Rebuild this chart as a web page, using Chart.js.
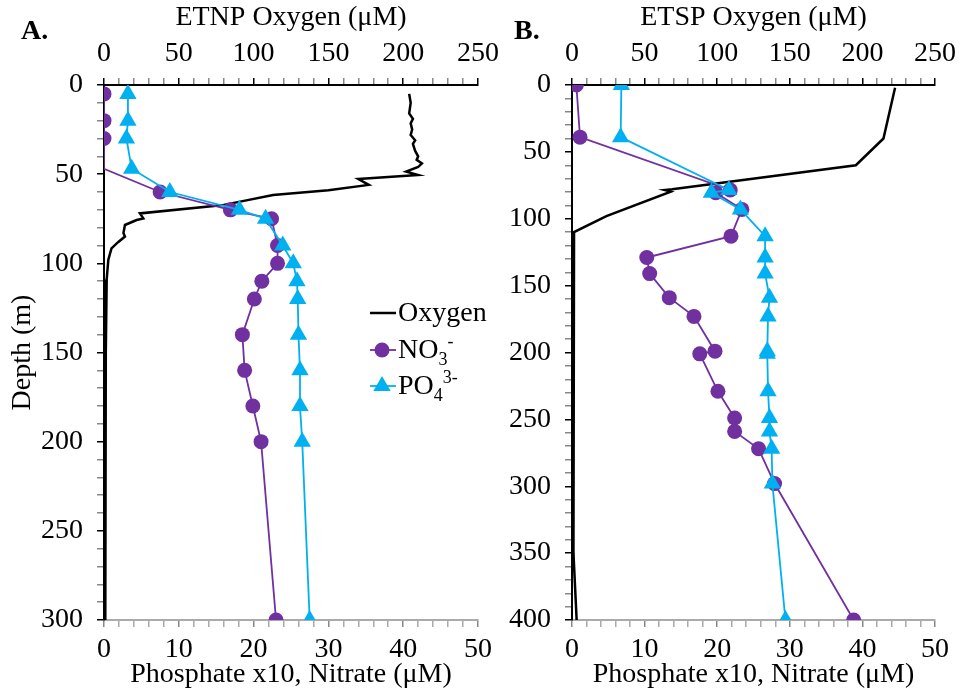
<!DOCTYPE html>
<html>
<head>
<meta charset="utf-8">
<script src="https://cdn.jsdelivr.net/npm/chart.js"></script>
<style>
  body { margin: 0; background: #fff; }
  #wrap { position: relative; width: 964px; height: 691px; }
  canvas { position: absolute; left: 0; top: 0; }
</style>
</head>
<body>
<div id="wrap">
  <canvas id="chartA" width="964" height="691"></canvas>
  <canvas id="chartB" width="964" height="691"></canvas>
</div>
<script>
// ---- ETNP (panel A) ----
const etnpNutDepth = [5, 20, 30, 47, 60, 70, 75, 90, 100, 110, 120, 140, 160, 180, 200, 300];
const etnpNitrate = [0, 0, 0, 0, 7.5, 16.9, 22.4, 23.2, 23.2, 21.1, 20.1, 18.5, 18.8, 19.9, 21.0, 23.0];
const etnpPhosphate = [3.2, 3.2, 3.0, 3.7, 8.8, 18.1, 21.6, 23.9, 25.3, 25.8, 25.9, 26.0, 26.2, 26.2, 26.5, 27.5];
const etnpOxDepth = [5, 10, 16, 19, 21.5, 25, 28, 31, 33, 37, 40, 42, 44, 46, 48.6, 50.5, 52.7, 56, 59, 61.7, 65.4, 67.3,
  72, 74.8, 75.7, 78.5, 83, 85, 88, 91.6, 98, 109, 130, 150, 200, 250, 300];
const etnpOxygen = [204, 205, 204, 206.5, 205, 206, 205, 208, 206.5, 208, 210, 209, 212.5, 210, 202, 210, 170, 177, 150, 113, 91, 80,
  24, 26.3, 21.8, 14, 13, 14, 9.6, 5, 2.9, 1.8, 1.5, 1.2, 1, 0.8, 0.8];

// ---- ETSP (panel B) ----
const etspNutDepth = [0, 39, 78.5, 80.5, 93, 113, 129, 141, 159, 173, 199, 201, 229, 249, 259, 272, 298, 400];
const etspNitrate = [0.6, 1.1, 21.8, 19.8, 23.4, 21.9, 10.3, 10.7, 13.4, 16.8, 19.7, 17.6, 20.1, 22.4, 22.4, 25.7, 27.9, 38.8];
const etspPhosphate = [6.8, 6.7, 21.6, 19.2, 23.2, 26.6, 26.6, 26.6, 27.2, 27.0, 26.9, 26.9, 27.0, 27.2, 27.2, 27.5, 27.6, 29.4];
const etspOxDepth = [2, 40, 60, 78, 78.5, 79.7, 98, 110, 350, 400];
const etspOxygen = [222.5, 214.5, 195.5, 69, 64, 68, 23.7, 1.4, 1, 3.2];

const FONT = "'Liberation Serif', 'Times New Roman', serif";
const PURPLE = '#7030A0';
const BLUE = '#00B0F0';

function pts(xs, ys) {
  return xs.map((v, i) => ({ x: v, y: ys[i] }));
}

function tickColor(major, dark, light) {
  return ctx => (ctx.tick && ctx.tick.value % major === 0) ? dark : light;
}

// panel letter + legend with sub/superscripts
const extras = {
  id: 'extras',
  afterDraw(chart, args, opts) {
    const c = chart.ctx;
    c.save();
    c.fillStyle = '#000';
    c.textBaseline = 'alphabetic';
    c.font = 'bold 28px ' + FONT;
    c.fillText(opts.letter, opts.letterX, 39);
    (opts.legend || []).forEach(item => {
      c.strokeStyle = item.color;
      c.lineWidth = item.width;
      c.beginPath();
      c.moveTo(370, item.y);
      c.lineTo(396, item.y);
      c.stroke();
      c.fillStyle = item.color;
      if (item.marker === 'circle') {
        c.beginPath();
        c.arc(382, item.y, 7.5, 0, Math.PI * 2);
        c.fill();
      } else if (item.marker === 'triangle') {
        const r = 10;
        c.beginPath();
        c.moveTo(382, item.y - r);
        c.lineTo(382 + r * 0.866, item.y + r * 0.5);
        c.lineTo(382 - r * 0.866, item.y + r * 0.5);
        c.closePath();
        c.fill();
      }
      c.fillStyle = '#000';
      let x = 398;
      item.parts.forEach(p => {
        let dy = 0;
        if (p.sub) { c.font = '18px ' + FONT; dy = 7; }
        else if (p.sup) { c.font = '18px ' + FONT; dy = -11; }
        else c.font = '28px ' + FONT;
        c.fillText(p.t, x, item.y + 8 + dy);
        x += c.measureText(p.t).width;
      });
    });
    c.restore();
  }
};

function buildChart(id, d) {
  const ctx = document.getElementById(id).getContext('2d');
  return new Chart(ctx, {
    type: 'scatter',
    data: {
      datasets: [
        {
          label: 'PO4',
          data: pts(d.phosphate, d.depth),
          xAxisID: 'x',
          showLine: true,
          borderColor: BLUE,
          backgroundColor: BLUE,
          borderWidth: 1.8,
          pointStyle: 'triangle',
          pointRadius: 10,
          pointBorderWidth: 0
        },
        {
          label: 'NO3',
          data: pts(d.nitrate, d.depth),
          xAxisID: 'x',
          showLine: true,
          borderColor: PURPLE,
          backgroundColor: PURPLE,
          borderWidth: 1.8,
          pointStyle: 'circle',
          pointRadius: c => (d.hideNitrate || []).includes(c.dataIndex) ? 0 : 7.5,
          pointBorderWidth: 0
        },
        {
          label: 'Oxygen',
          data: pts(d.oxygen, d.oxDepth),
          xAxisID: 'x2',
          showLine: true,
          borderColor: '#000',
          borderWidth: 2.5,
          pointRadius: 0
        }
      ]
    },
    options: {
      responsive: false,
      animation: false,
      devicePixelRatio: 1,
      layout: { padding: { left: d.padLeft, right: d.padRight, top: 0, bottom: 0 } },
      plugins: {
        legend: { display: false },
        tooltip: { enabled: false },
        extras: { letter: d.letter, letterX: d.letterX, legend: d.legend }
      },
      scales: {
        x: {
          type: 'linear',
          position: 'bottom',
          min: 0, max: 50,
          ticks: {
            stepSize: 2, maxTicksLimit: 100, autoSkip: false, maxRotation: 0,
            callback: v => v % 10 === 0 ? v : '',
            font: { family: FONT, size: 28 }, color: '#000', padding: 6
          },
          grid: { drawOnChartArea: false, drawTicks: true, tickLength: 7, lineWidth: 1.5, color: tickColor(10, '#888', '#aaa') },
          border: { color: '#aaa', width: 2 },
          title: { display: true, text: 'Phosphate x10, Nitrate (μM)', font: { family: FONT, size: 28 }, color: '#000', padding: { top: 0, bottom: 0 } },
          afterFit: s => { s.height = 71; }
        },
        x2: {
          type: 'linear',
          position: 'top',
          min: 0, max: 250,
          ticks: {
            stepSize: 10, maxTicksLimit: 100, autoSkip: false, maxRotation: 0,
            callback: v => v % 50 === 0 ? v : '',
            font: { family: FONT, size: 28 }, color: '#000', padding: 8
          },
          grid: { drawOnChartArea: false, drawTicks: true, tickLength: 7, lineWidth: 1.5, color: tickColor(50, '#000', '#888') },
          border: { color: '#000', width: 2 },
          title: { display: true, text: d.topTitle, font: { family: FONT, size: 28 }, color: '#000', padding: { top: 1, bottom: 0 } },
          afterFit: s => { s.height = 85; }
        },
        y: {
          type: 'linear',
          reverse: true,
          min: 0, max: d.maxDepth,
          ticks: {
            stepSize: 10, maxTicksLimit: 100, autoSkip: false,
            callback: v => v % 50 === 0 ? v : '',
            font: { family: FONT, size: 28 }, color: '#000', padding: 14
          },
          grid: { drawOnChartArea: false, drawTicks: true, tickLength: 7, lineWidth: 1.5, color: tickColor(50, '#000', '#888') },
          border: { color: '#000', width: 2 },
          title: { display: d.depthTitle, text: 'Depth (m)', font: { family: FONT, size: 28 }, color: '#000', padding: { top: 6, bottom: 0 } },
          afterFit: s => { s.width = 104; }
        }
      }
    },
    plugins: [extras]
  });
}

buildChart('chartA', {
  depth: etnpNutDepth, nitrate: etnpNitrate, phosphate: etnpPhosphate,
  oxDepth: etnpOxDepth, oxygen: etnpOxygen,
  maxDepth: 300, topTitle: 'ETNP Oxygen (μM)', depthTitle: true,
  padLeft: 0, padRight: 964 - 478,
  hideNitrate: [3],
  letter: 'A.', letterX: 21,
  legend: [
    { y: 313, color: '#000', width: 2.5, marker: null, parts: [{ t: 'Oxygen' }] },
    { y: 350, color: PURPLE, width: 1.8, marker: 'circle', parts: [{ t: 'NO' }, { t: '3', sub: true }, { t: '-', sup: true }] },
    { y: 386, color: BLUE, width: 1.8, marker: 'triangle', parts: [{ t: 'PO' }, { t: '4', sub: true }, { t: '3-', sup: true }] }
  ]
});

buildChart('chartB', {
  depth: etspNutDepth, nitrate: etspNitrate, phosphate: etspPhosphate,
  oxDepth: etspOxDepth, oxygen: etspOxygen,
  maxDepth: 400, topTitle: 'ETSP Oxygen (μM)', depthTitle: false,
  padLeft: 572 - 104, padRight: 964 - 938,
  letter: 'B.', letterX: 514,
  legend: []
});
</script>
</body>
</html>
